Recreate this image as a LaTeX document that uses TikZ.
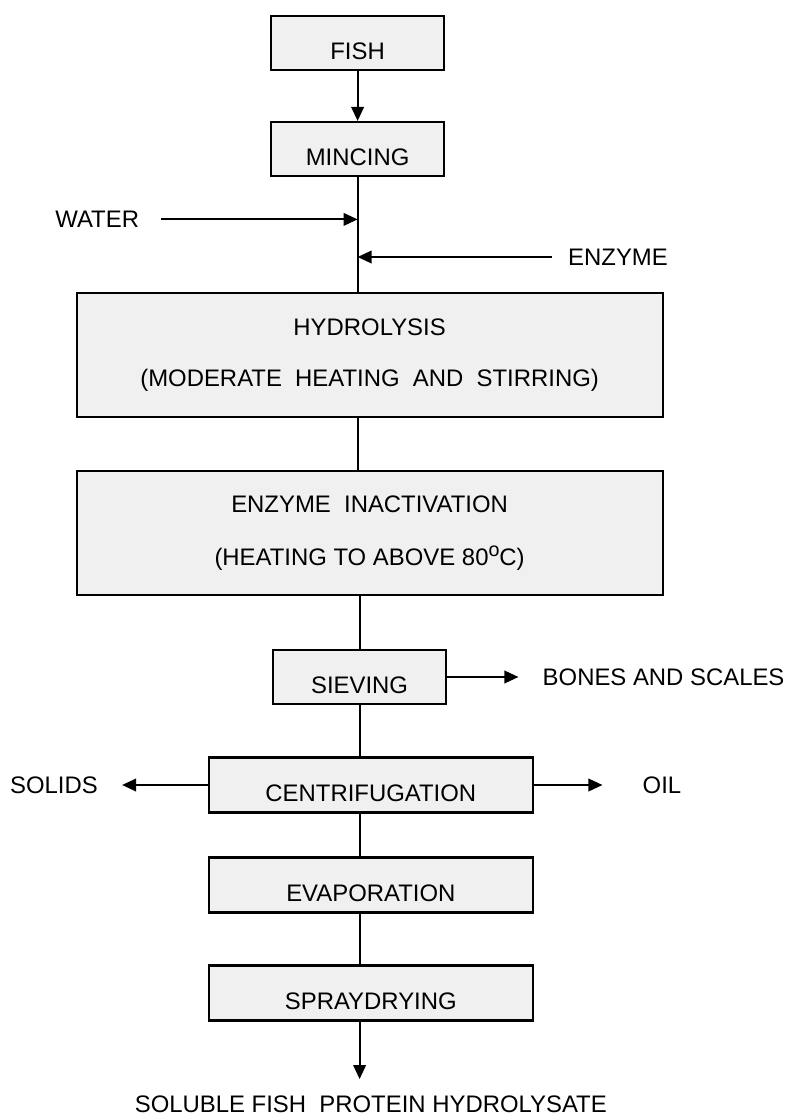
\documentclass[tikz,border=0pt]{standalone}
\usepackage{fontspec}
\setmainfont{Liberation Sans}
\usetikzlibrary{shapes,arrows.meta,positioning}
\tikzstyle{stepbox} = [rectangle, draw=black, line width=1.5pt, fill=black!6, minimum width=4.325cm, minimum height=1.35cm, inner sep=0pt, text height=23pt, text depth=0pt, align=center]
\tikzstyle{midbox} = [stepbox, minimum width=8.1cm, minimum height=1.375cm]
\tikzstyle{widebox} = [rectangle, draw=black, line width=1.5pt, fill=black!6, minimum width=14.65cm, minimum height=3.1cm, inner sep=0pt, align=center]
\tikzstyle{sidelabel} = [inner sep=0pt]
\tikzstyle{arrow} = [line width=1.3pt, -{Triangle[length=10pt,width=9pt]}]
\tikzstyle{line} = [line width=1.3pt]

\begin{document}
\begin{tikzpicture}[node distance=2.65cm, font=\fontsize{17}{36}\selectfont]
\useasboundingbox (0,0) rectangle (19.675,-28);

\node (fish) [stepbox] at (8.94,-1.075) {FISH};
\node (mincing) [stepbox, below of=fish] {MINCING};
\node (hydrolysis) [widebox, below of=mincing, xshift=0.3cm, yshift=-2.5cm] {HYDROLYSIS\\(MODERATE\ \ HEATING\ \ AND\ \ STIRRING)};
\node (inactivation) [widebox, below of=hydrolysis, yshift=-1.8cm] {ENZYME\ \ INACTIVATION\\[2pt](HEATING TO ABOVE 80\raisebox{0.7ex}{\fontsize{14}{14}\selectfont o}C)};
\node (sieving) [stepbox, below of=inactivation, xshift=-0.25cm, yshift=-0.95cm] {SIEVING};
\node (centrifugation) [midbox, below of=sieving, xshift=0.28cm, yshift=-0.05cm] {CENTRIFUGATION};
\node (evaporation) [midbox, below of=centrifugation, yshift=0.15cm] {EVAPORATION};
\node (spraydrying) [midbox, below of=evaporation, yshift=-0.05cm] {SPRAYDRYING};
\node (product) [sidelabel, below of=spraydrying, yshift=-0.12cm] {SOLUBLE FISH\ \ PROTEIN HYDROLYSATE};

\node (water) [sidelabel, left of=mincing, xshift=-3.86cm, yshift=-1.76cm] {WATER};
\node (enzyme) [sidelabel, right of=mincing, xshift=3.86cm, yshift=-2.7cm] {ENZYME};
\node (bones) [sidelabel, right of=sieving, xshift=4.95cm] {BONES AND SCALES};
\node (oil) [sidelabel, right of=centrifugation, xshift=4.63cm] {OIL};
\node (solids) [sidelabel, left of=centrifugation, xshift=-5.27cm] {SOLIDS};

\coordinate (waterin) at (mincing.south |- water);
\coordinate (enzymein) at (mincing.south |- enzyme);
\coordinate (productin) at ([yshift=0.4cm]product.north -| sieving.south);

\draw [arrow] (fish) -- (mincing);
\draw [line] (mincing.south) -- (mincing.south |- hydrolysis.north);
\draw [arrow] ([xshift=0.55cm]water.east) -- (waterin);
\draw [arrow] ([xshift=-0.4cm]enzyme.west) -- (enzymein);
\draw [line] (mincing.south |- hydrolysis.south) -- (mincing.south |- inactivation.north);
\draw [line] (sieving.north |- inactivation.south) -- (sieving.north);
\draw [arrow] (sieving.east) -- ([xshift=-0.6cm]bones.west);
\draw [line] (sieving.south) -- (sieving.south |- centrifugation.north);
\draw [arrow] (centrifugation.east) -- ([xshift=-1cm]oil.west);
\draw [arrow] (centrifugation.west) -- ([xshift=0.6cm]solids.east);
\draw [line] (sieving.south |- centrifugation.south) -- (sieving.south |- evaporation.north);
\draw [line] (sieving.south |- evaporation.south) -- (sieving.south |- spraydrying.north);
\draw [arrow] (sieving.south |- spraydrying.south) -- (productin);

\end{tikzpicture}
\end{document}
